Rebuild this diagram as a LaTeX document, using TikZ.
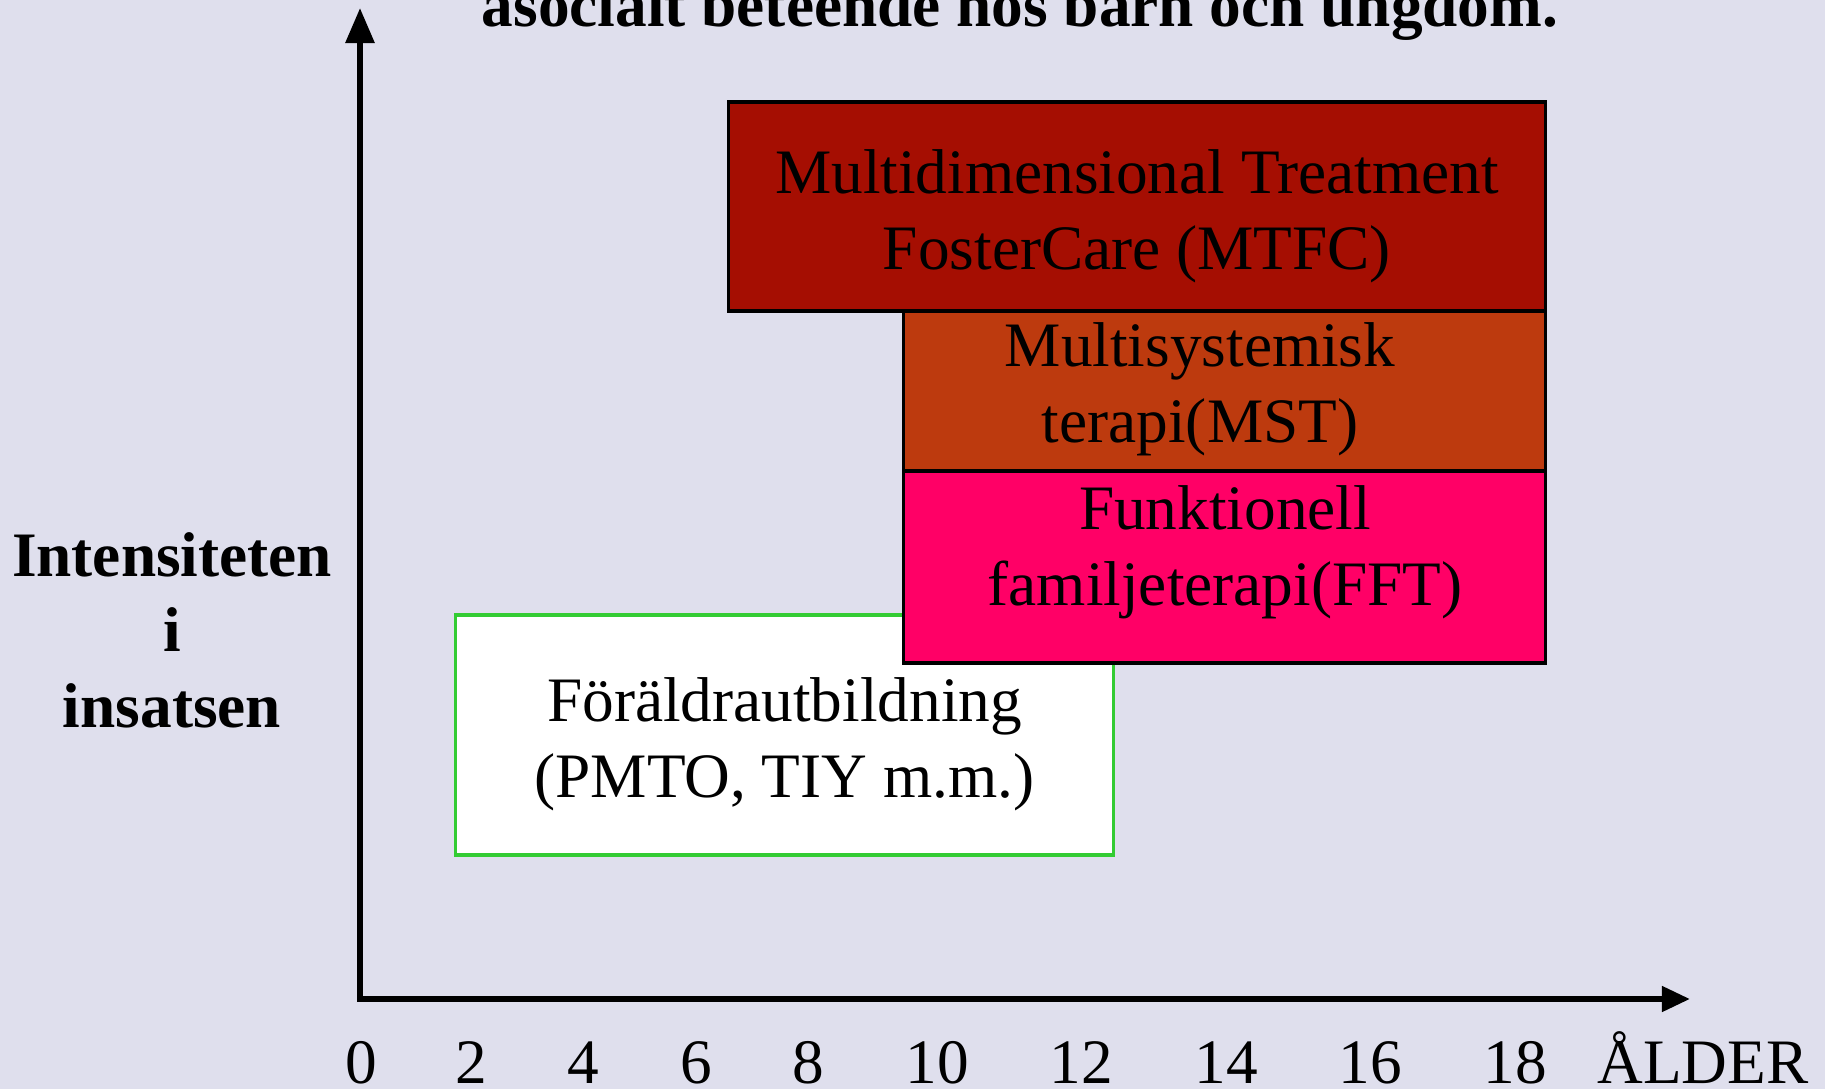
\documentclass[tikz,border=0pt]{standalone}
\usepackage{fontspec}
\setmainfont{Liberation Serif}
\usetikzlibrary{arrows.meta}
\definecolor{bgcolor}{RGB}{223,223,237}
\definecolor{mtfccolor}{RGB}{165,14,2}
\definecolor{mstcolor}{RGB}{189,58,14}
\definecolor{fftcolor}{RGB}{255,0,102}
\definecolor{pmtogreen}{RGB}{51,204,51}

\begin{document}
\begin{tikzpicture}[x=0.01cm, y=-0.01cm,
		box/.style={draw=black, line width=0.9pt, inner sep=0pt},
		boxtext/.style={align=center, font=\fontsize{18}{21.5}\selectfont},
		ticklabel/.style={anchor=base, font=\fontsize{18}{21.5}\selectfont},
		axis/.style={line width=1.7pt, {Triangle[length=10pt,width=8pt]}-{Triangle[length=8pt,width=7pt]}}]
		\fill[color=bgcolor] (0,0) rectangle (1825,1089);
		\useasboundingbox (0,0) rectangle (1825,1089);
		
		% axes
		\coordinate (origin) at (360,999);
		\coordinate (ytip) at (360,8);
		\coordinate (xtip) at (1690,999);
		\draw[axis] (ytip) -- (origin) -- (xtip);
		
		\node[font=\bfseries\fontsize{18}{21.5}\selectfont, anchor=base] (title) at (1020, 27) {asocialt beteende hos barn och ungdom.};
		\node[font=\bfseries\fontsize{18}{21.5}\selectfont, align=center] (intensity) at (172, 630) {Intensiteten\\i\\insatsen};
		
		% boxes
		\node[box, draw=pmtogreen, fill=white, minimum width=6.57cm, minimum height=2.40cm] (pmto) at (784.5, 735) {};
		\node[box, fill=mtfccolor, minimum width=8.16cm, minimum height=2.09cm] (mtfc) at (1137, 206.5) {};
		\node[box, fill=mstcolor, minimum width=6.41cm, minimum height=1.60cm] (mst) at (1224.5, 391) {};
		\node[box, fill=fftcolor, minimum width=6.41cm, minimum height=1.92cm] (fft) at (1224.5, 567) {};
		
		\node[boxtext] (pmtotext) at (784.5, 744) {Föräldrautbildning\\(PMTO, TIY m.m.)};
		\node[boxtext] (mtfctext) at (1137, 216) {Multidimensional Treatment\\FosterCare (MTFC)};
		\node[boxtext] (msttext) at (1200, 389) {Multisystemisk\\terapi(MST)};
		\node[boxtext] (ffttext) at (1225, 552) {Funktionell\\familjeterapi(FFT)};
		
		% age scale
		\foreach \age/\xpos in {0/361, 2/471, 4/583, 6/696, 8/808, 10/937, 12/1081, 14/1226, 16/1370, 18/1515}
			\node[ticklabel] (age\age) at (\xpos, 1083) {\age};
		\node[ticklabel] (alder) at (1703, 1083) {ÅLDER};
\end{tikzpicture}
\end{document}
